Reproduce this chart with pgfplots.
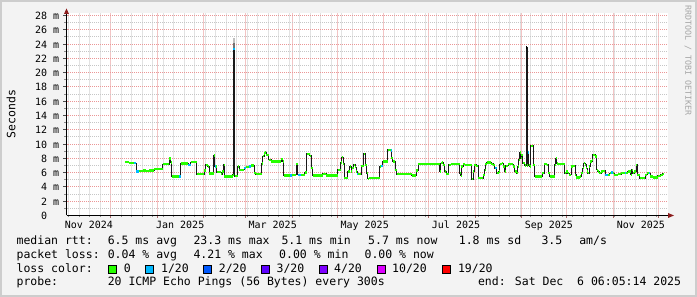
\documentclass[border=0pt]{standalone}
\usepackage{fontspec}
\setmainfont{DejaVu Sans Mono}
\usepackage{pgfplots}
\pgfplotsset{compat=1.18}
\usepackage{pgfplotstable}
\usetikzlibrary{arrows.meta}
\definecolor{bgc}{RGB}{243,243,243}
\definecolor{frm}{RGB}{205,205,205}
\definecolor{mgrid}{RGB}{235,150,150}
\definecolor{ngrid}{RGB}{198,198,198}
\definecolor{mgridv}{RGB}{242,196,196}
\definecolor{ngridv}{RGB}{226,226,226}
\definecolor{lzero}{HTML}{26FF00}
\definecolor{lone}{HTML}{00B8FF}
\definecolor{ltwo}{HTML}{0059FF}
\definecolor{lthree}{HTML}{5E00FF}
\definecolor{lfour}{HTML}{7E00FF}
\definecolor{lten}{HTML}{DD00FF}
\definecolor{lnineteen}{HTML}{FF0000}
\definecolor{arr}{RGB}{140,30,30}
\newcommand{\lf}{\fontsize{11.5}{11.5}\selectfont}
\newcommand{\tf}{\fontsize{10}{10}\selectfont}

\pgfplotstableread{
day val
38.9 7.46
41.5 7.35
45.1 7.32
46.6 6.15
48.0 6.24
51.0 6.30
53.0 6.20
55.0 6.30
58.4 6.50
64.0 7.20
68.4 8.00
69.6 7.40
70.2 5.45
76.2 7.30
81.1 7.05
82.9 7.45
86.9 5.80
91.8 6.29
92.9 7.10
94.0 6.85
95.1 5.90
98.2 8.40
98.8 6.85
100.2 6.06
103.3 5.77
103.9 6.15
104.7 7.10
105.1 5.45
110.7 5.70
111.3 23.3
112.3 5.50
114.0 6.85
115.1 6.40
118.4 6.62
119.5 6.76
121.8 6.85
123.0 7.00
125.1 5.92
126.2 5.77
130.0 7.30
130.7 8.30
131.8 8.70
132.6 8.83
133.1 8.50
134.7 7.80
136.4 7.56
143.1 7.89
144.2 7.56
144.9 5.59
150.4 5.68
153.1 7.18
154.2 5.68
158.7 6.00
160.2 8.64
162.0 8.36
163.1 6.62
164.2 5.59
170.9 5.82
173.1 5.59
180.9 6.38
182.7 7.42
183.6 8.17
184.4 7.23
185.0 5.21
187.6 6.15
188.7 6.85
189.8 6.15
190.2 6.62
191.6 7.09
192.4 6.76
193.1 6.15
193.8 5.82
194.5 5.77
196.4 6.95
198.2 8.64
199.3 7.09
200.2 5.92
200.9 5.12
201.5 5.21
208.7 6.85
209.8 6.95
210.9 7.56
214.2 9.20
216.0 9.10
216.4 8.03
217.6 7.56
219.1 6.38
220.2 5.77
230.0 5.59
233.3 6.30
234.4 7.18
248.9 6.15
249.6 7.32
250.4 7.42
251.1 7.09
252.2 6.15
253.3 5.77
254.9 7.09
256.0 7.18
262.2 5.92
262.9 5.54
263.3 6.85
264.4 7.18
265.6 7.09
270.0 5.10
271.1 6.15
271.8 7.09
273.3 6.95
274.4 5.21
277.8 5.68
278.9 6.38
279.3 7.18
280.0 7.42
283.3 7.23
284.4 7.09
285.6 6.62
286.7 5.92
288.2 6.15
288.9 7.18
290.0 7.32
291.1 6.85
292.2 6.15
292.9 6.95
294.4 7.18
297.8 6.85
298.9 6.15
300.0 5.92
300.7 6.85
301.6 7.80
302.2 8.83
302.9 8.03
303.3 8.50
304.0 7.32
305.5 7.00
306.4 23.5
307.2 7.00
307.8 8.83
308.2 7.09
308.9 6.85
309.6 9.77
311.1 7.09
312.2 5.45
317.1 5.92
318.4 7.23
320.0 7.09
321.1 5.92
322.2 5.45
325.6 7.09
326.2 8.03
326.8 7.32
327.1 7.23
332.0 5.92
333.1 6.15
334.2 5.92
335.3 5.68
336.4 6.85
337.5 6.95
339.1 5.68
339.7 5.31
342.0 5.45
343.1 5.92
344.2 6.62
344.9 7.32
345.7 7.09
346.4 6.62
347.1 6.15
347.5 5.92
348.6 6.85
349.3 7.56
350.4 7.80
350.9 8.50
352.4 8.26
353.5 6.38
354.2 6.15
355.3 5.92
356.4 6.15
357.5 6.24
359.1 5.68
362.0 5.92
363.1 6.00
364.2 5.92
365.3 5.68
367.5 5.77
369.7 5.92
374.2 6.15
376.0 5.68
376.9 6.38
377.5 5.92
378.6 6.15
379.7 7.09
380.4 5.68
382.0 5.21
385.7 5.68
387.1 5.92
389.3 5.45
390.9 5.31
394.2 5.54
396.0 5.68
397.5 5.82
398.6 5.82
}\median

\begin{document}
\begin{tikzpicture}
\fill[bgc] (0pt,0pt) rectangle (697pt,297pt);
\path[use as bounding box] (0pt,0pt) rectangle (697pt,297pt);
\draw[frm, line width=2pt] (1pt,1pt) rectangle (696pt,296pt);
\fill[white] (66.5pt,81.5pt) rectangle (667.5pt,283.5pt);

% vertical grid (weekly minor, monthly major), pixel-aligned
\foreach \px in {68.5,89.5,110.5,131.5,152.5,173.5,194.5,215.5,236.5,257.5,278.5,299.5,320.5,341.5,362.5,383.5,404.5,425.5,446.5,467.5,488.5,509.5,530.5,551.5,572.5,593.5,614.5,635.5,656.5,79.5,100.5,121.5,142.5,163.5,184.5,205.5,226.5,247.5,268.5,289.5,310.5,331.5,352.5,373.5,394.5,415.5,436.5,457.5,478.5,499.5,520.5,541.5,562.5,583.5,604.5,625.5,646.5} {
  \draw[ngridv, line width=1pt] (\px pt,81.5pt) -- (\px pt,283.5pt);
  \draw[black!45, line width=1pt] (\px pt,81.5pt) -- (\px pt,79.5pt);
}
\foreach \px in {110.5,157.5,203.5,245.5,292.5,337.5,383.5,428.5,475.5,521.5,566.5,613.5,658.5} {
  \draw[mgridv, line width=1pt] (\px pt,81.5pt) -- (\px pt,283.5pt);
  \draw[mgrid!70!black, line width=1pt] (\px pt,81.5pt) -- (\px pt,78.5pt);
}

\begin{axis}[
  at={(66.5pt,81.5pt)}, anchor=south west, scale only axis,
  width=601pt, height=202pt,
  xmin=0, xmax=400.6667, ymin=0, ymax=28.28,
  axis x line*=bottom, axis y line*=left,
  axis line style={draw=none},
  xtick=\empty,
  ytick={1.96,4.06,6.02,7.98,9.94,12.04,14,15.96,18.06,20.02,21.98,23.94,26.04,28},
  minor ytick={0.98,2.94,5.04,7.00,8.96,11.06,13.02,14.98,16.94,19.04,21.00,22.96,25.06,27.02},
  yticklabels={},
  ymajorgrids, yminorgrids,
  major grid style={mgrid, line width=1pt, dash pattern=on 1pt off 1pt, dash phase=0.5pt},
  minor grid style={ngrid, line width=1pt, dash pattern=on 1pt off 1pt, dash phase=0.5pt},
  tick align=outside,
  major tick length=3pt, minor tick length=2pt,
  every major tick/.append style={black!70, line width=1pt},
  every minor tick/.append style={black!45, line width=1pt},
  clip=true,
]
\addplot[fill=black!55, draw=none] coordinates {(111.3,23.3)(112.3,23.3)(112.3,24.1)(111.3,24.1)} -- cycle;
\addplot[fill=black!25, draw=none] coordinates {(111.3,24.1)(112.3,24.1)(112.3,24.9)(111.3,24.9)} -- cycle;
\addplot[const plot, black!90, line width=1pt] table[x=day,y=val]{\median};
\addplot[jump mark left, lzero, line width=2.3pt] table[x=day,y=val]{\median};
\addplot[black, line width=2.3pt] coordinates {(306.4,23.5)(307.2,23.5)};
\addplot[lone, line width=2.3pt, unbounded coords=jump] coordinates {
(45.1,7.32)(46.6,7.32)(46.6,nan)
(46.6,6.15)(48.0,6.15)(48.0,nan)
(75.2,5.45)(76.2,5.45)(76.2,nan)
(81.1,7.05)(82.9,7.05)(82.9,nan)
(98.8,6.85)(99.8,6.85)(99.8,nan)
(111.3,23.3)(112.3,23.3)(112.3,nan)
(118.4,6.62)(119.5,6.62)(119.5,nan)
(121.8,6.85)(123.0,6.85)(123.0,nan)
(149.3,5.59)(150.4,5.59)(150.4,nan)
(154.2,5.68)(156.5,5.68)(156.5,nan)
(193.8,5.82)(194.5,5.82)(194.5,nan)
(209.8,6.95)(210.9,6.95)(210.9,nan)
(216.0,9.10)(216.4,9.10)(216.4,nan)
(285.6,6.62)(286.7,6.62)(286.7,nan)
(307.8,8.83)(308.2,8.83)(308.2,nan)
(359.1,5.68)(361.0,5.68)(361.0,nan)
(363.1,6.00)(364.2,6.00)(364.2,nan)
(372.0,5.92)(373.1,5.92)(373.1,nan)
(388.2,5.92)(389.3,5.92)
};
\end{axis}

% axes with arrows
\draw[black, line width=1pt] (66.5pt,81.5pt) -- (669pt,81.5pt);
\fill[arr] (674pt,81.5pt) -- (668pt,84pt) -- (668pt,79pt) -- cycle;
\draw[black, line width=1pt] (66.5pt,81.5pt) -- (66.5pt,284pt);
\fill[arr] (66.5pt,288.5pt) -- (64pt,283pt) -- (69pt,283pt) -- cycle;

% y tick labels
\foreach \v/\n in {2/14,4/29,6/43,8/57,10/71,12/86,14/100,16/114,18/129,20/143,22/157,24/171,26/186,28/200} {
  \node[anchor=east, inner sep=0pt, font=\tf] at (59.3pt,{81.5pt+\n pt}) {\v\ m};
}
\node[anchor=east, inner sep=0pt, font=\tf] at (59.3pt,81.5pt) {0\phantom{mm}};

% x tick labels
\foreach \c/\t in {88.9/Nov 2024,180.2/Jan 2025,272.7/Mar 2025,364.7/May 2025,456/Jul 2025,548.9/Sep 2025,640.9/Nov 2025} {
  \node[anchor=base, inner sep=0pt, font=\tf] at (\c pt,68.7pt) {\t};
}

\node[rotate=90, inner sep=0pt, font=\lf] at (11pt,183pt) {Seconds};
\node[rotate=-90, anchor=west, inner sep=0pt, text=black!35, font=\fontsize{8.3}{8.3}\selectfont] at (688pt,292pt) {RRDTOOL / TOBI OETIKER};

% legend rows
\begin{scope}[every node/.style={anchor=base west, inner sep=0pt, font=\lf}]
\node at (16.4pt,52pt) {median rtt:};
\node at (107.6pt,52pt) {6.5 ms avg};
\node at (193.3pt,52pt) {23.3 ms max};
\node at (281.3pt,52pt) {5.1 ms min};
\node at (368pt,52pt) {5.7 ms now};
\node at (458.7pt,52pt) {1.8 ms sd};
\node at (541.3pt,52pt) {3.5};
\node at (579.1pt,52pt) {am/s};

\node at (16.4pt,38.3pt) {packet loss:};
\node at (107.6pt,38.3pt) {0.04 \% avg};
\node at (193.3pt,38.3pt) {4.21 \% max};
\node at (279pt,38.3pt) {0.00 \% min};
\node at (364.4pt,38.3pt) {0.00 \% now};

\node at (16.4pt,24.5pt) {loss color:};
\node at (123.6pt,24.5pt) {0};
\node at (160.9pt,24.5pt) {1/20};
\node at (218.7pt,24.5pt) {2/20};
\node at (276.4pt,24.5pt) {3/20};
\node at (334pt,24.5pt) {4/20};
\node at (392pt,24.5pt) {10/20};
\node at (457.8pt,24.5pt) {19/20};

\node at (16.4pt,11pt) {probe:};
\node at (107.6pt,11pt) {20 ICMP Echo Pings (56 Bytes) every 300s};
\node at (477.8pt,11pt) {end: Sat Dec\ \ 6 06:05:14 2025};
\end{scope}

\foreach \xx/\cc in {108/lzero,145.3/lone,203/ltwo,261/lthree,319/lfour,377/lten,442/lnineteen} {
  \filldraw[fill=\cc, draw=black, line width=0.8pt] (\xx pt,23.8pt) rectangle ({\xx pt+8pt},31.8pt);
}
\end{tikzpicture}
\end{document}
